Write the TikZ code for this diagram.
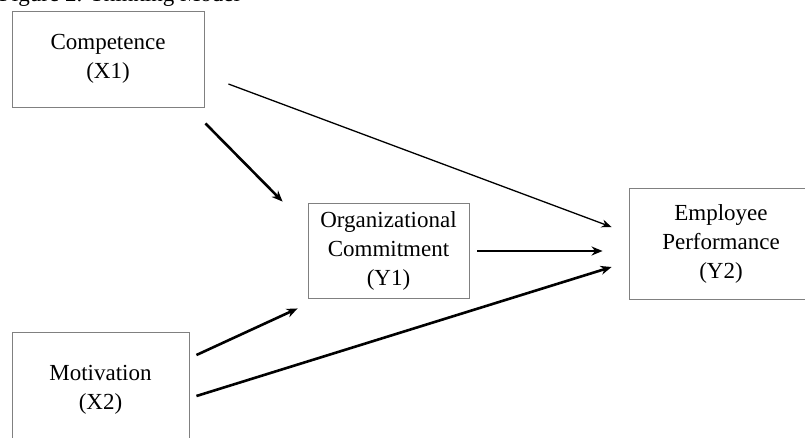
\documentclass[tikz,border=0pt]{standalone}
\usepackage{fontspec}
\setmainfont{Liberation Serif}
\usetikzlibrary{arrows.meta}

\begin{document}
\begin{tikzpicture}[
x=1pt,y=-1pt,
font=\fontsize{23}{29}\selectfont,
varbox/.style={rectangle,draw=black!50,line width=0.9pt,align=center,inner sep=0pt},
effect/.style={line width=2.6pt,-{Stealth[length=11pt,width=9pt]}},
weakeffect/.style={line width=1.3pt,-{Stealth[length=10pt,width=8pt]}}
]

\clip (0,0) rectangle (805,437);

% Caption, cut off at the top
\node [anchor=base west,inner sep=0pt] (caption) at (-1,1) {Figure 2. Thinking Model};

% Variables
\node [varbox,minimum width=192pt,minimum height=96pt] (comp) at (108,59) {Competence\\(X1)};
\node [varbox,minimum width=161pt,minimum height=95pt] (org) at (388.5,250.5) {Organizational\\Commitment\\(Y1)};
\node [varbox,minimum width=184pt,minimum height=111pt] (emp) at (721,243.5) {Employee\\Performance\\(Y2)};
\node [varbox,minimum width=177pt,minimum height=116pt] (mot) at (100.5,390) {Motivation\\(X2)};

% Paths
\draw [weakeffect] ([xshift=24pt,yshift=-25pt]comp.east) -- ([xshift=-17pt,yshift=16.5pt]emp.west);
\draw [effect] ([xshift=1pt,yshift=-16pt]comp.south east) -- ([xshift=-25pt,yshift=1pt]org.north west);
\draw [effect] ([xshift=8pt,yshift=-0.5pt]org.east) -- ([xshift=-26pt,yshift=-7.5pt]emp.west);
\draw [effect] ([xshift=7pt,yshift=35pt]mot.east) -- ([xshift=-10pt,yshift=-10pt]org.south west);
\draw [effect] ([xshift=7pt,yshift=-6pt]mot.east) -- ([xshift=-17pt,yshift=-23.5pt]emp.west);
\end{tikzpicture}
\end{document}
